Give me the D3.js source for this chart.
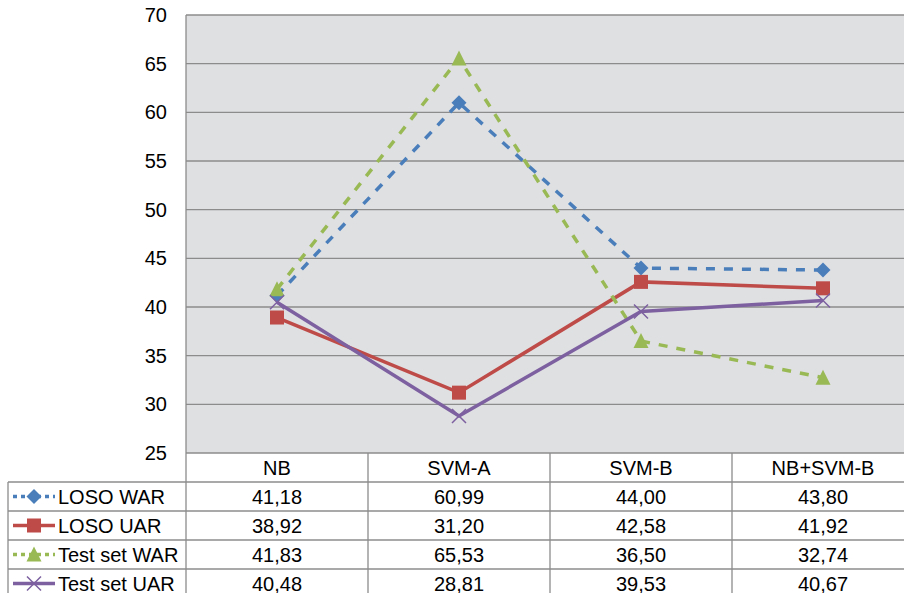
<!DOCTYPE html>
<html>
<head>
<meta charset="utf-8">
<script src="https://cdn.jsdelivr.net/npm/d3@7"></script>
<style>
  html, body { margin: 0; padding: 0; background: #fff; }
  svg { display: block; font-family: "Liberation Sans", Arial, sans-serif; }
</style>
</head>
<body>
<svg id="chart" width="904" height="593"></svg>
<script>
// Classifiers compared
const categories = ["NB", "SVM-A", "SVM-B", "NB+SVM-B"];

// Recognition rates (%) per classifier
const losoWAR = [41.18, 60.99, 44.00, 43.80];
const losoUAR = [38.92, 31.20, 42.58, 41.92];
const testWAR = [41.83, 65.53, 36.50, 32.74];
const testUAR = [40.48, 28.81, 39.53, 40.67];

const seriesNames = ["LOSO WAR", "LOSO UAR", "Test set WAR", "Test set UAR"];
const yTicks = [25, 30, 35, 40, 45, 50, 55, 60, 65, 70];

const series = [
  { name: seriesNames[0], values: losoWAR, color: "#4a7ebb", dashed: true,  marker: "diamond" },
  { name: seriesNames[1], values: losoUAR, color: "#be4b48", dashed: false, marker: "square" },
  { name: seriesNames[2], values: testWAR, color: "#98b954", dashed: true,  marker: "triangle" },
  { name: seriesNames[3], values: testUAR, color: "#7d60a0", dashed: false, marker: "cross" }
];

const svg = d3.select("#chart");
const gridColor = "#8c8c8c";
const fontSize = 20;

const plot = { left: 186, right: 914, top: 15, bottom: 453 };
const rowH = 29;
const tableLeft = 8;

const x = d3.scaleBand().domain(categories).range([plot.left, plot.right]);
const y = d3.scaleLinear().domain([25, 70]).range([plot.bottom, plot.top]);
const cx = c => x(c) + x.bandwidth() / 2;

// plot background
svg.append("rect")
  .attr("x", plot.left).attr("y", plot.top)
  .attr("width", plot.right - plot.left).attr("height", plot.bottom - plot.top)
  .attr("fill", "#dfe0e2");

// horizontal gridlines
svg.append("g").selectAll("line").data(yTicks).join("line")
  .attr("x1", plot.left).attr("x2", plot.right)
  .attr("y1", d => y(d)).attr("y2", d => y(d))
  .attr("stroke", gridColor).attr("stroke-width", 1.3);

// left axis line
svg.append("line")
  .attr("x1", plot.left).attr("x2", plot.left)
  .attr("y1", plot.top).attr("y2", plot.bottom)
  .attr("stroke", gridColor).attr("stroke-width", 1.3);

// y tick labels
const yAxis = d3.axisLeft(y).tickValues(yTicks).tickSize(0).tickPadding(19);
const gy = svg.append("g").attr("transform", `translate(${plot.left},0)`).call(yAxis);
gy.select(".domain").remove();
gy.selectAll("text")
  .attr("font-size", fontSize).attr("font-family", "Liberation Sans, Arial, sans-serif")
  .attr("fill", "#000");

// marker shapes
function drawMarker(g, type, px, py, color, scale = 1) {
  if (type === "diamond") {
    const r = 7.5 * scale;
    g.append("path").attr("d", `M${px},${py - r}L${px + r},${py}L${px},${py + r}L${px - r},${py}Z`)
      .attr("fill", color);
  } else if (type === "square") {
    const s = 14 * scale;
    g.append("rect").attr("x", px - s / 2).attr("y", py - s / 2).attr("width", s).attr("height", s)
      .attr("fill", color);
  } else if (type === "triangle") {
    const w = 15 * scale, h = 14 * scale;
    g.append("path").attr("d", `M${px},${py - h / 2 - 1}L${px + w / 2},${py + h / 2}L${px - w / 2},${py + h / 2}Z`)
      .attr("fill", color);
  } else if (type === "cross") {
    const r = 7 * scale;
    g.append("path").attr("d", `M${px - r},${py - r}L${px + r},${py + r}M${px - r},${py + r}L${px + r},${py - r}`)
      .attr("stroke", color).attr("stroke-width", 1.5).attr("fill", "none");
  }
}

// series lines and markers
const line = d3.line().x((d, i) => cx(categories[i])).y(d => y(d));
series.forEach(s => {
  const g = svg.append("g");
  g.append("path").datum(s.values)
    .attr("d", line)
    .attr("fill", "none")
    .attr("stroke", s.color)
    .attr("stroke-width", 3.5)
    .attr("stroke-dasharray", s.dashed ? "9,9" : null);
  s.values.forEach((v, i) => drawMarker(g, s.marker, cx(categories[i]), y(v), s.color));
});

// data table
const tbl = svg.append("g");
const tableTop = plot.bottom;
const lineAttrs = sel => sel.attr("stroke", gridColor).attr("stroke-width", 1.3);

// header row (categories)
tbl.selectAll("text.cat").data(categories).join("text")
  .attr("class", "cat")
  .attr("x", d => cx(d)).attr("y", tableTop + rowH / 2)
  .attr("dy", "0.35em").attr("text-anchor", "middle")
  .attr("font-size", fontSize).attr("fill", "#000")
  .text(d => d);

// horizontal table lines
const hLines = [];
for (let r = 1; r <= 4; r++) hLines.push(tableTop + rowH * r);
tbl.selectAll("line.h").data(hLines).join("line")
  .attr("x1", tableLeft).attr("x2", plot.right)
  .attr("y1", d => d).attr("y2", d => d)
  .call(lineAttrs);

// vertical table lines
const vX = categories.map(c => x(c));
tbl.selectAll("line.v").data(vX).join("line")
  .attr("x1", d => d).attr("x2", d => d)
  .attr("y1", tableTop).attr("y2", 600)
  .call(lineAttrs);
tbl.append("line")
  .attr("x1", tableLeft).attr("x2", tableLeft)
  .attr("y1", tableTop + rowH).attr("y2", 600)
  .call(lineAttrs);

// rows: legend key + values
series.forEach((s, r) => {
  const rowMid = tableTop + rowH * (r + 1) + rowH / 2;
  const g = tbl.append("g");
  g.append("line")
    .attr("x1", 13).attr("x2", 55)
    .attr("y1", rowMid).attr("y2", rowMid)
    .attr("stroke", s.color).attr("stroke-width", 3.5)
    .attr("stroke-dasharray", s.dashed ? "4,4" : null);
  drawMarker(g, s.marker, 34, rowMid, s.color);
  g.append("text")
    .attr("x", 58).attr("y", rowMid).attr("dy", "0.35em")
    .attr("font-size", fontSize).attr("fill", "#000")
    .text(s.name);
  g.selectAll("text.val").data(s.values).join("text")
    .attr("class", "val")
    .attr("x", (d, i) => cx(categories[i])).attr("y", rowMid).attr("dy", "0.35em")
    .attr("text-anchor", "middle")
    .attr("font-size", fontSize).attr("fill", "#000")
    .text(d => d.toFixed(2).replace(".", ","));
});
</script>
</body>
</html>
